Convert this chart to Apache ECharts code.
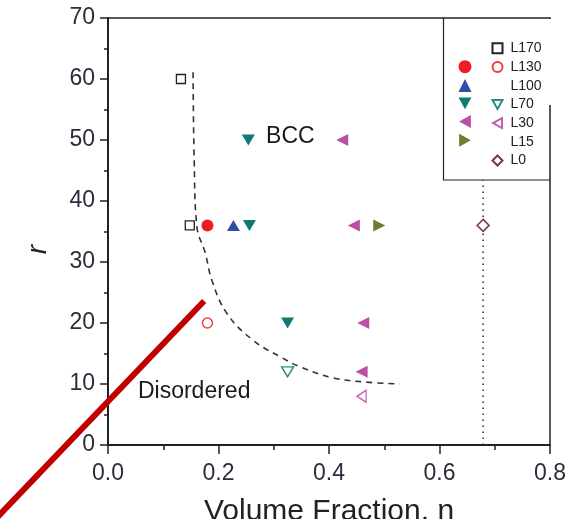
<!DOCTYPE html>
<html>
<head>
<meta charset="utf-8">
<script src="https://cdn.jsdelivr.net/npm/echarts@6/dist/echarts.min.js"></script>
<style>html,body{margin:0;padding:0;background:#fff}#chart{width:578px;height:519px}</style>
</head>
<body>
<div id="chart"></div>
<script>
// ---- data (volume fraction η, r) ----
const L170 = [[0.132, 60], [0.148, 36]];
const L130_filled = [[0.180, 36]];
const L130_open = [[0.180, 20]];
const L100 = [[0.227, 36]];
const L70_filled = [[0.254, 50], [0.256, 36], [0.325, 20]];
const L70_open = [[0.325, 12]];
const L30_filled = [[0.424, 50], [0.445, 36], [0.462, 20], [0.459, 12]];
const L30_open = [[0.459, 8]];
const L15 = [[0.491, 36]];
const L0 = [[0.679, 36]];
const boundaryCurve = [[0.154, 61.1], [0.156, 46.7], [0.161, 35.7], [0.176, 31.5], [0.188, 27.0], [0.215, 21.6], [0.262, 17.2], [0.315, 14.3], [0.348, 12.8], [0.407, 11.0], [0.469, 10.3], [0.528, 10.0]];
const dottedLine = [[0.679, 0], [0.679, 43.4]];
const redLine = [[0.174, 23.6], [-0.203, -12.1]];
const regionLabels = [{ name: 'BCC', value: [0.33, 50.5] }, { name: 'Disordered', value: [0.156, 8.7] }];
const xTicks = { min: 0, max: 0.8, interval: 0.2 };
const yTicks = { min: 0, max: 70, interval: 10 };

const FONT = 'Liberation Sans, Arial, Helvetica, sans-serif';
const AX = '#222';
const LBL = '#2b2d3a';

// legend icon shapes for rotated triangles
const ICON_DOWN = 'path://M0,0 L10,0 L5,9 Z';
const ICON_LEFT = 'path://M9,0 L9,10 L0,5 Z';
const ICON_RIGHT = 'path://M0,0 L9,5 L0,10 Z';

const chart = echarts.init(document.getElementById('chart'), null, { renderer: 'canvas' });

function sc(name, data, symbol, size, rotate, fill, stroke, bw) {
  return {
    name, type: 'scatter', data, symbol, symbolSize: size, symbolRotate: rotate,
    itemStyle: { color: fill, borderColor: stroke, borderWidth: bw, opacity: 1 },
    emphasis: { disabled: true }, z: 5
  };
}

const boxGraphics = [
  { type: 'rect', z: 8, silent: true, shape: { x: 444.5, y: 19, width: 109, height: 86 }, style: { fill: '#fff' } },
  { type: 'rect', z: 8, silent: true, shape: { x: 444.5, y: 105, width: 104.5, height: 74 }, style: { fill: '#fff' } },
  { type: 'polyline', z: 9, silent: true, shape: { points: [[443.5, 18], [443.5, 180], [550, 180]] }, style: { stroke: '#222', lineWidth: 1.2, fill: null } }
];

const option = {
  backgroundColor: '#fff',
  animation: false,
  grid: { left: 108, right: 28, top: 18, bottom: 74, show: true, borderColor: AX, borderWidth: 1.5, backgroundColor: 'transparent', containLabel: false, outerBoundsMode: 'none' },
  xAxis: {
    type: 'value', min: xTicks.min, max: xTicks.max, interval: xTicks.interval,
    name: 'Volume Fraction, η', nameLocation: 'middle', nameGap: 52,
    nameTextStyle: { fontFamily: FONT, fontSize: 30, color: '#222' },
    axisLine: { show: true, onZero: false, lineStyle: { color: AX, width: 2 } },
    axisTick: { show: true, length: 9, lineStyle: { color: AX, width: 1.5 } },
    minorTick: { show: true, splitNumber: 2, length: 5, lineStyle: { color: AX, width: 1.5 } },
    splitLine: { show: false }, minorSplitLine: { show: false },
    axisLabel: { fontFamily: FONT, fontSize: 23, color: LBL, margin: 17, formatter: v => v.toFixed(1) }
  },
  yAxis: {
    type: 'value', min: yTicks.min, max: yTicks.max, interval: yTicks.interval,
    name: 'r', nameLocation: 'middle', nameGap: 56,
    nameTextStyle: { fontFamily: FONT, fontSize: 28, fontStyle: 'italic', color: '#222', padding: [0, 36, 0, 0] },
    axisLine: { show: true, onZero: false, lineStyle: { color: AX, width: 2 } },
    axisTick: { show: true, length: 8, lineStyle: { color: AX, width: 1.5 } },
    minorTick: { show: true, splitNumber: 2, length: 4, lineStyle: { color: AX, width: 1.5 } },
    splitLine: { show: false }, minorSplitLine: { show: false },
    axisLabel: { fontFamily: FONT, fontSize: 23, color: LBL, margin: 13 }
  },
  legend: [
    {
      orient: 'vertical', left: 458.5, top: 60.2, padding: 0, itemGap: 5.7,
      itemWidth: 13, itemHeight: 13, z: 10,
      data: [
        { name: 'L130 filled', icon: 'circle' },
        { name: 'L100', icon: 'triangle' },
        { name: 'L70 filled', icon: ICON_DOWN },
        { name: 'L30 filled', icon: ICON_LEFT },
        { name: 'L15', icon: ICON_RIGHT }
      ],
      formatter: () => '', selectedMode: false,
      textStyle: { fontSize: 13, lineHeight: 13 }
    },
    {
      orient: 'vertical', left: 491.5, top: 41.3, padding: 0, itemGap: 4.7,
      itemWidth: 10, itemHeight: 10, z: 10, selectedMode: false,
      data: [
        { name: 'L170', icon: 'rect' },
        { name: 'L130', icon: 'circle' },
        { name: 'L100', itemStyle: { opacity: 0 } },
        { name: 'L70', icon: ICON_DOWN },
        { name: 'L30', icon: ICON_LEFT },
        { name: 'L15', itemStyle: { opacity: 0 } },
        { name: 'L0', icon: 'diamond' }
      ],
      textStyle: { fontFamily: FONT, fontSize: 14, lineHeight: 14, color: '#222', padding: [0, 0, 0, 3] }
    }
  ],
  graphic: boxGraphics,
  series: [
    {
      name: 'boundary', type: 'line', data: boundaryCurve, smooth: 0.4, symbol: 'none', z: 3,
      lineStyle: { color: '#333', width: 1.6, type: [6, 5] }, emphasis: { disabled: true }
    },
    {
      name: 'dotted', type: 'line', data: dottedLine, symbol: 'none', z: 3,
      lineStyle: { color: '#333', width: 1.6, type: [1.6, 4.4] }, emphasis: { disabled: true }
    },
    sc('L170', L170, 'rect', 9, 0, '#fff', '#222', 1.3),
    sc('L130 filled', L130_filled, 'circle', 12, 0, '#ee1c25', '#ee1c25', 0),
    sc('L130', L130_open, 'circle', 10, 0, '#fff', '#f03c46', 1.5),
    sc('L100', L100, 'triangle', [13, 11], 0, '#2e4fa3', '#2e4fa3', 0),
    sc('L70 filled', L70_filled, 'triangle', [13, 11], 180, '#0f7a73', '#0f7a73', 0),
    sc('L70', L70_open, 'triangle', [12, 10], 180, '#fff', '#2a8a85', 1.4),
    sc('L30 filled', L30_filled, 'triangle', [12, 12], 90, '#bb4fa7', '#bb4fa7', 0),
    sc('L30', L30_open, 'triangle', [12, 9], 90, '#fff', '#c060b0', 1.4),
    sc('L15', L15, 'triangle', [12, 12], -90, '#77792f', '#77792f', 0),
    sc('L0', L0, 'diamond', 12, 0, '#fff', '#7a3a3a', 1.5),
    {
      name: 'labels', type: 'scatter', data: regionLabels, symbolSize: 1, z: 4,
      itemStyle: { color: 'rgba(0,0,0,0)' },
      label: { show: true, position: 'inside', formatter: p => p.name, fontFamily: FONT, fontSize: 23, color: '#1a1a1a', opacity: 1 },
      emphasis: { disabled: true }
    }
  ]
};
chart.setOption(option);

// red annotation stroke, placed through the axes' own scales
const redPts = redLine.map(p => chart.convertToPixel({ gridIndex: 0 }, p));
chart.setOption({
  graphic: boxGraphics.concat([{
    type: 'polyline', z: 20, silent: true,
    shape: { points: redPts },
    style: { stroke: '#c00000', lineWidth: 6, fill: null }
  }])
});
</script>
</body>
</html>
